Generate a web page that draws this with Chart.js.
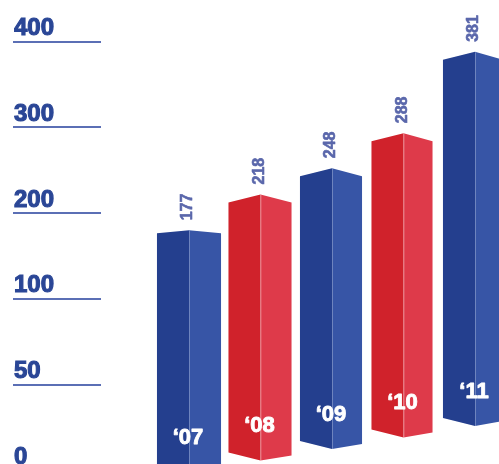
<!DOCTYPE html>
<html><head><meta charset="utf-8">
<style>html,body{margin:0;padding:0;overflow:hidden;background:#fff}#wrap{position:absolute;left:0;top:0;width:520px;height:480px}</style>
<script src="https://cdn.jsdelivr.net/npm/chart.js@4/dist/chart.umd.min.js"></script>
</head><body><div id="wrap"><canvas id="c"></canvas></div>
<script>
const years = ['\u201807','\u201808','\u201809','\u201810','\u201811'];
const values = [177, 218, 248, 288, 381];
const axisLabels = ['400', '300', '200', '100', '50', '0'];
const barTone = ['blue', 'red', 'blue', 'red', 'blue'];

const palette = {
  blue: {front: '#243f8e', side: '#3755a6'},
  red: {front: '#d0222b', side: '#de3a4a'}
};

const bar3d = {
  id: 'bar3d',
  afterDatasetsDraw(chart) {
    const ctx = chart.ctx;
    const meta = chart.getDatasetMeta(0);
    const base = chart.scales.y.getPixelForValue(0);
    meta.data.forEach((el, i) => {
      const {x, y, width} = el.getProps(['x', 'y', 'width'], true);
      const half = width / 2;
      const L = x - half, R = x + half - i;
      const rise = Math.min(8, 3 + 5 * i);
      const botL = base + 79 - 11.5 * i;
      const col = palette[barTone[i]];
      ctx.save();
      ctx.fillStyle = col.front;
      ctx.beginPath();
      ctx.moveTo(L, y + rise); ctx.lineTo(x, y); ctx.lineTo(x, botL + 8); ctx.lineTo(L, botL);
      ctx.closePath(); ctx.fill();
      ctx.fillStyle = col.side;
      ctx.beginPath();
      ctx.moveTo(x, y); ctx.lineTo(R, y + rise); ctx.lineTo(R, botL + 3); ctx.lineTo(x, botL + 8);
      ctx.closePath(); ctx.fill();
      ctx.strokeStyle = 'rgba(255,255,255,0.28)';
      ctx.lineWidth = 1;
      ctx.beginPath(); ctx.moveTo(x + 0.5, y + 0.5); ctx.lineTo(x + 0.5, botL + 8); ctx.stroke();
      // year label
      ctx.fillStyle = '#ffffff';
      ctx.strokeStyle = '#ffffff';
      ctx.lineWidth = 0.9;
      ctx.lineJoin = 'round';
      ctx.font = 'bold 22px "Liberation Sans", Arial, sans-serif';
      ctx.textAlign = 'center';
      ctx.textBaseline = 'middle';
      ctx.strokeText(years[i], x - 1, botL - 26.5);
      ctx.fillText(years[i], x - 1, botL - 26.5);
      // value label
      ctx.translate(x - 1, y - 10);
      ctx.rotate(-Math.PI / 2);
      ctx.fillStyle = '#5a67ab';
      ctx.strokeStyle = '#5a67ab';
      ctx.lineWidth = 0.6;
      ctx.font = 'bold 16px "Liberation Sans", Arial, sans-serif';
      ctx.textAlign = 'left';
      ctx.textBaseline = 'middle';
      ctx.strokeText(String(values[i]), 0, 0);
      ctx.fillText(String(values[i]), 0, 0);
      ctx.restore();
    });
  }
};

const underline = {
  id: 'underline',
  afterDraw(chart) {
    const s = chart.scales.yLab;
    const ctx = chart.ctx;
    ctx.save();
    ctx.strokeStyle = '#5b6fb5';
    ctx.lineWidth = 2;
    s.ticks.forEach((t, i) => {
      const py = Math.round(s.getPixelForTick(i));
      ctx.beginPath();
      ctx.moveTo(s.left - 1, py);
      ctx.lineTo(s.left + 87, py);
      ctx.stroke();
    });
    ctx.restore();
  }
};

new Chart(document.getElementById('c'), {
  type: 'bar',
  data: {
    labels: years,
    datasets: [{
      data: values,
      backgroundColor: 'rgba(0,0,0,0)',
      borderWidth: 0,
      categoryPercentage: 1,
      barPercentage: 0.896,
      yAxisID: 'y'
    }]
  },
  options: {
    responsive: true,
    maintainAspectRatio: false,
    animation: false,
    layout: {padding: {left: 14, right: 9.25, top: 41.7, bottom: 9.5}},
    plugins: {legend: {display: false}, tooltip: {enabled: false}},
    scales: {
      x: {display: false, offset: true},
      y: {display: false, min: -97.6, max: 392.6},
      yLab: {
        type: 'category',
        labels: axisLabels,
        position: 'left',
        offset: false,
        grid: {display: false, drawTicks: false},
        border: {display: false},
        ticks: {
          font: {family: '"Liberation Sans", Arial, sans-serif', size: 24, weight: 'bold'},
          color: '#2a4696',
          textStrokeColor: '#2a4696',
          textStrokeWidth: 1.1,
          crossAlign: 'far',
          labelOffset: -13.2,
          padding: 0,
          autoSkip: false
        },
        afterFit(s) { s.width = 139.25; s.paddingTop = 0; s.paddingBottom = 0; }
      }
    }
  },
  plugins: [bar3d, underline]
});
</script>
</body></html>
